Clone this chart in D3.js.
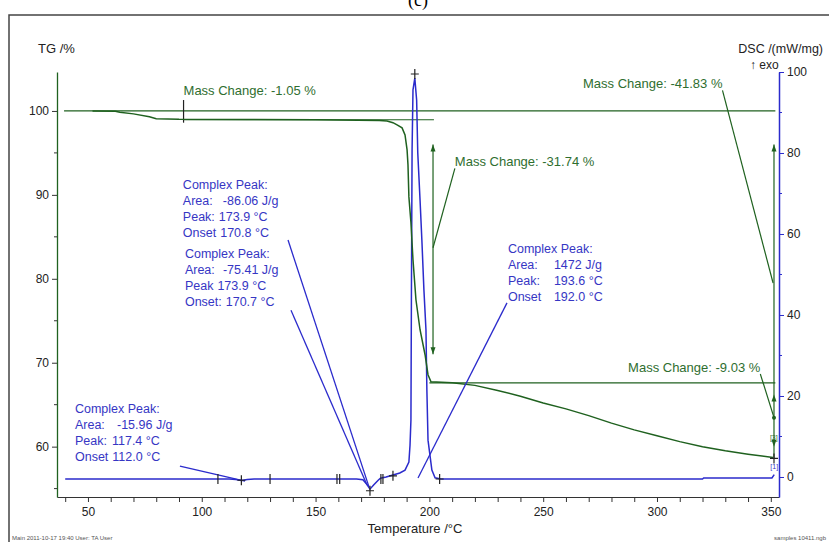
<!DOCTYPE html>
<html lang="en">
<head>
<meta charset="UTF-8" />
<title>TG-DSC</title>
<script src="https://cdnjs.cloudflare.com/ajax/libs/d3/7.8.5/d3.min.js"></script>
<style>
  body { margin: 0; background: #fff; }
  text { font-family: "Liberation Sans", Arial, sans-serif; }
</style>
</head>
<body>
<script>
// ---- values ----
// TG curve: [temperature °C, mass %]
const tgCurve = [
  [52, 100.0], [62, 99.97], [64, 99.85], [70, 99.65], [77, 99.3], [80, 99.08],
  [90, 99.0], [120, 98.97], [150, 98.95], [178, 98.85], [181.4, 98.8], [184, 98.6],
  [185.8, 98.33], [188, 97.98], [189.3, 97.14], [190.2, 95.36], [190.6, 93.57],
  [191, 89.76], [191.9, 86.67], [192.8, 82.26], [194.1, 77.5], [195.9, 73.93],
  [198.1, 70.95], [199.4, 68.57], [200.7, 67.74], [210, 67.62], [220, 67.3],
  [230, 66.7], [240, 66.0], [250, 65.2], [260, 64.5], [270, 63.7], [280, 62.8],
  [290, 62.0], [300, 61.3], [310, 60.6], [320, 60.0], [330, 59.5], [340, 59.1], [351, 58.7]
];
// DSC curve: [temperature °C, mW/mg]
const dscCurve = [
  [40, -0.5], [100, -0.5], [112, -0.5], [115, -0.6], [117.4, -0.85], [120, -0.6],
  [123, -0.5], [168, -0.5], [170.8, -0.7], [172.5, -1.8], [173.9, -3.0], [175.5, -2.0],
  [177.5, -0.8], [178.5, -0.3], [181, 0.0], [184, 0.5], [187, 1.0], [189.3, 1.7],
  [191.0, 3.7], [191.5, 7.9], [191.9, 14.1], [192.1, 43.7], [192.4, 80.7], [192.8, 95.6],
  [193.6, 98.5], [194.4, 93.1], [194.9, 80], [195.9, 68.4], [196.7, 58.5], [197.6, 46.2],
  [198.5, 36.3], [198.9, 21.5], [199.4, 9.1], [201.1, 1.7], [202.5, -0.2], [205, -0.5],
  [320, -0.5], [320.5, -0.25], [350.5, -0.25], [351.5, 0.6]
];

const xTicks = d3.range(40, 351, 10);
const xLabels = [50, 100, 150, 200, 250, 300, 350];
const tgTicks = [60, 70, 80, 90, 100];
const tgMinor = [55, 65, 75, 85, 95];
const dscTicks = [0, 20, 40, 60, 80, 100];
const dscMinor = [10, 30, 50, 70, 90];

// mass change reference lines [t0, t1, mass %]
const massLines = [[39.5, 352, 100.0], [92, 202, 98.95], [200, 352, 67.6]];
// vertical step markers [t, from %, to %]
const massVerticals = [[92, 101.3, 98.6], [201.6, 96.0, 71.0], [351.4, 96.0, 58.6]];
// arrow heads [t, %, direction]
const massArrows = [[201.6, 96.0, "up"], [201.6, 71.0, "down"], [351.4, 96.0, "up"],
                    [351.4, 66.2, "up"], [351.4, 60.0, "down"]];
// labels [t, %, text, leader end t, leader end %, leader from "start" | "end" | null]
const massLabels = [
  [92, 101.85, "Mass Change: -1.05 %", null, null, null],
  [211.2, 93.4, "Mass Change: -31.74 %", 201.6, 83.7, "start"],
  [267.5, 102.7, "Mass Change: -41.83 %", 351.0, 79.5, "end"],
  [287.3, 68.9, "Mass Change: -9.03 %", 351.4, 63.45, "end"]
];

// DSC peak annotation blocks: anchor [t, mW/mg], rows of [label, value, value offset]
const peakBlocks = [
  { at: [91.7, 71.2], rows: [["Complex Peak:", "", 0], ["Area:", "-86.06 J/g", 40], ["Peak:", "173.9 °C", 35], ["Onset", "170.8 °C", 35]] },
  { at: [92.6, 53.95], rows: [["Complex Peak:", "", 0], ["Area:", "-75.41 J/g", 38], ["Peak", "173.9 °C", 32], ["Onset:", "170.7 °C", 32]] },
  { at: [234.5, 55.2], rows: [["Complex Peak:", "", 0], ["Area:", "1472 J/g", 46], ["Peak:", "193.6 °C", 46], ["Onset", "192.0 °C", 46]] },
  { at: [44.3, 15.7], rows: [["Complex Peak:", "", 0], ["Area:", "-15.96 J/g", 42], ["Peak:", "117.4 °C", 37], ["Onset", "112.0 °C", 37]] }
];
// leaders [t0, dsc0, t1, dsc1]
const peakLeaders = [
  [137.9, 58.5, 173.5, -2.5],
  [139.2, 41.2, 172.6, -2.0],
  [234.1, 43.0, 195.0, -0.25],
  [90.4, 2.7, 119.0, -1.0]
];
// evaluation markers on DSC
const plusMarks = [[117.4, -0.8], [173.9, -3.4], [193.6, 99.5], [204.5, -0.5], [184, 0.3]];
const limitMarks = [107.1, 130, 159.4, 160.6, 178.7, 179.6];

// ---- layout ----
const W = 829, H = 542;
const green = "#1f611f", greenText = "#2f6e2f", blue = "#2b2bcc", blueText = "#3636c4";

const x = d3.scaleLinear().domain([36.4, 353.6]).range([57, 779]);
const yTG = d3.scaleLinear().domain([54.0, 104.64]).range([497, 72]);
const yDSC = d3.scaleLinear().domain([-4.94, 100]).range([497, 72]);

const svg = d3.select("body").append("svg")
  .attr("width", W).attr("height", H).style("display", "block");

svg.append("rect").attr("width", W).attr("height", H).attr("fill", "#fff");

// outer frame and title
svg.append("path").attr("d", `M9,${H + 5}V15H${W + 5}`)
  .attr("fill", "none").attr("stroke", "#444").attr("stroke-width", 1.5);
svg.append("text").attr("x", 418).attr("y", 6).attr("text-anchor", "middle")
  .style("font-family", "'Liberation Serif', serif").style("font-size", "18px").text("(c)");

// axes
const xAxis = svg.append("g").attr("transform", `translate(0,${yTG.range()[0]})`)
  .call(d3.axisBottom(x).tickValues(xTicks).tickSize(5).tickSizeOuter(0)
    .tickFormat(d => xLabels.includes(d) ? d : ""));
xAxis.select(".domain").attr("stroke", "#333");
xAxis.selectAll(".tick line").attr("stroke", "#333");
xAxis.selectAll("text").attr("fill", "#222").style("font-size", "12px").attr("dy", "0.9em");

const yLeft = svg.append("g").attr("transform", `translate(${x.range()[0]},0)`)
  .call(d3.axisLeft(yTG).tickValues(tgTicks).tickSize(5).tickSizeOuter(0).tickPadding(3));
yLeft.select(".domain").attr("stroke", green).attr("stroke-width", 1.3);
yLeft.selectAll(".tick line").attr("stroke", "#333");
yLeft.selectAll("text").attr("fill", "#222").style("font-size", "12px");
yLeft.selectAll(".minor").data(tgMinor).join("line").attr("class", "minor")
  .attr("x1", -3).attr("x2", 0)
  .attr("y1", d => yTG(d)).attr("y2", d => yTG(d)).attr("stroke", "#333");

const yRight = svg.append("g").attr("transform", `translate(${x.range()[1]},0)`)
  .call(d3.axisRight(yDSC).tickValues(dscTicks).tickSize(5).tickSizeOuter(0).tickPadding(3));
yRight.select(".domain").attr("stroke", blue).attr("stroke-width", 1.5);
yRight.selectAll(".tick line").attr("stroke", blue);
yRight.selectAll("text").attr("fill", "#222").style("font-size", "12px");
yRight.selectAll(".minor").data(dscMinor).join("line").attr("class", "minor")
  .attr("x1", 0).attr("x2", 3)
  .attr("y1", d => yDSC(d)).attr("y2", d => yDSC(d)).attr("stroke", blue);

// axis titles
svg.append("text").attr("x", 38).attr("y", 53).style("font-size", "13px").attr("fill", "#222").text("TG /%");
svg.append("text").attr("x", 823).attr("y", 53).attr("text-anchor", "end")
  .style("font-size", "12.5px").attr("fill", "#222").text("DSC /(mW/mg)");
svg.append("text").attr("x", 750).attr("y", 69).style("font-size", "12px").attr("fill", "#222").text("↑ exo");
svg.append("text").attr("x", 415).attr("y", 533).attr("text-anchor", "middle")
  .style("font-size", "13px").attr("fill", "#222").text("Temperature /°C");

// footer
svg.append("text").attr("x", 12).attr("y", 540).style("font-size", "6px").attr("fill", "#555")
  .text("Main   2011-10-17 19:40    User: TA User");
svg.append("text").attr("x", 826).attr("y", 540).attr("text-anchor", "end")
  .style("font-size", "6px").attr("fill", "#555").text("samples 10411.ngb");

// mass change reference lines
const g = svg.append("g");
g.selectAll(".ml").data(massLines).join("line")
  .attr("x1", d => x(d[0])).attr("x2", d => x(d[1]))
  .attr("y1", d => yTG(d[2])).attr("y2", d => yTG(d[2]))
  .attr("stroke", green).attr("stroke-width", 1.2);
g.selectAll(".mv").data(massVerticals).join("line")
  .attr("x1", d => x(d[0])).attr("x2", d => x(d[0]))
  .attr("y1", d => yTG(d[1])).attr("y2", d => yTG(d[2]))
  .attr("stroke", d => d[0] < 100 ? "#222" : green).attr("stroke-width", 1.2);
g.selectAll(".ma").data(massArrows).join("path")
  .attr("d", d => {
    const px = x(d[0]), py = yTG(d[1]);
    return d[2] === "up"
      ? `M${px},${py}l-2.5,7h5z` : `M${px},${py}l-2.5,-7h5z`;
  })
  .attr("fill", green);

// DSC curve
svg.append("path").datum(dscCurve)
  .attr("d", d3.line().x(d => x(d[0])).y(d => yDSC(d[1])))
  .attr("fill", "none").attr("stroke", blue).attr("stroke-width", 1.5);

// TG curve
svg.append("path").datum(tgCurve)
  .attr("d", d3.line().x(d => x(d[0])).y(d => yTG(d[1])))
  .attr("fill", "none").attr("stroke", green).attr("stroke-width", 1.5);

// mass change labels + leaders
massLabels.forEach(([t, v, txt, lt, lv, from]) => {
  const tx = x(t), ty = yTG(v);
  const node = svg.append("text").attr("x", tx).attr("y", ty)
    .style("font-size", "13px").attr("fill", greenText).text(txt);
  if (from) {
    const sx = from === "start" ? tx : tx + node.node().getComputedTextLength();
    svg.append("line").attr("x1", sx).attr("y1", ty + 2)
      .attr("x2", x(lt)).attr("y2", yTG(lv))
      .attr("stroke", green).attr("stroke-width", 1.2);
  }
});
svg.append("circle").attr("cx", x(351.4)).attr("cy", yTG(63.45)).attr("r", 2).attr("fill", green);

// DSC peak labels + leaders
peakBlocks.forEach(b => {
  const bx = x(b.at[0]), by = yDSC(b.at[1]);
  b.rows.forEach((r, i) => {
    const lab = svg.append("text").attr("x", bx).attr("y", by + i * 16)
      .style("font-size", "12.5px").attr("fill", blueText).text(r[0]);
    if (r[1]) {
      const w = lab.node().getComputedTextLength();
      svg.append("text").attr("x", bx + Math.max(r[2], w + 4)).attr("y", by + i * 16)
        .style("font-size", "12.5px").attr("fill", blueText).text(r[1]);
    }
  });
});
svg.selectAll(".pl").data(peakLeaders).join("line")
  .attr("x1", d => x(d[0])).attr("y1", d => yDSC(d[1]))
  .attr("x2", d => x(d[2])).attr("y2", d => yDSC(d[3]))
  .attr("stroke", blue).attr("stroke-width", 1.3);

// evaluation markers
svg.selectAll(".lim").data(limitMarks).join("line")
  .attr("x1", d => x(d)).attr("x2", d => x(d))
  .attr("y1", yDSC(-0.5) - 5).attr("y2", yDSC(-0.5) + 5)
  .attr("stroke", "#222").attr("stroke-width", 1.2);
svg.selectAll(".plus").data(plusMarks).join("path")
  .attr("d", d => `M${x(d[0]) - 4},${yDSC(d[1])}h8M${x(d[0])},${yDSC(d[1]) - 5}v10`)
  .attr("stroke", "#222").attr("stroke-width", 1.2);
svg.append("path")
  .attr("d", `M${x(351.4) - 4},${yTG(58.6)}h8M${x(351.4)},${yTG(58.6) - 5}v10`)
  .attr("stroke", "#222").attr("stroke-width", 1.2);

// segment tags
svg.append("text").attr("x", x(349.6)).attr("y", yTG(60.8)).style("font-size", "7px")
  .attr("fill", greenText).text("[3]");
svg.append("text").attr("x", x(349.8)).attr("y", yDSC(2.0)).style("font-size", "7px")
  .attr("fill", blueText).text("[1]");
</script>
</body>
</html>
